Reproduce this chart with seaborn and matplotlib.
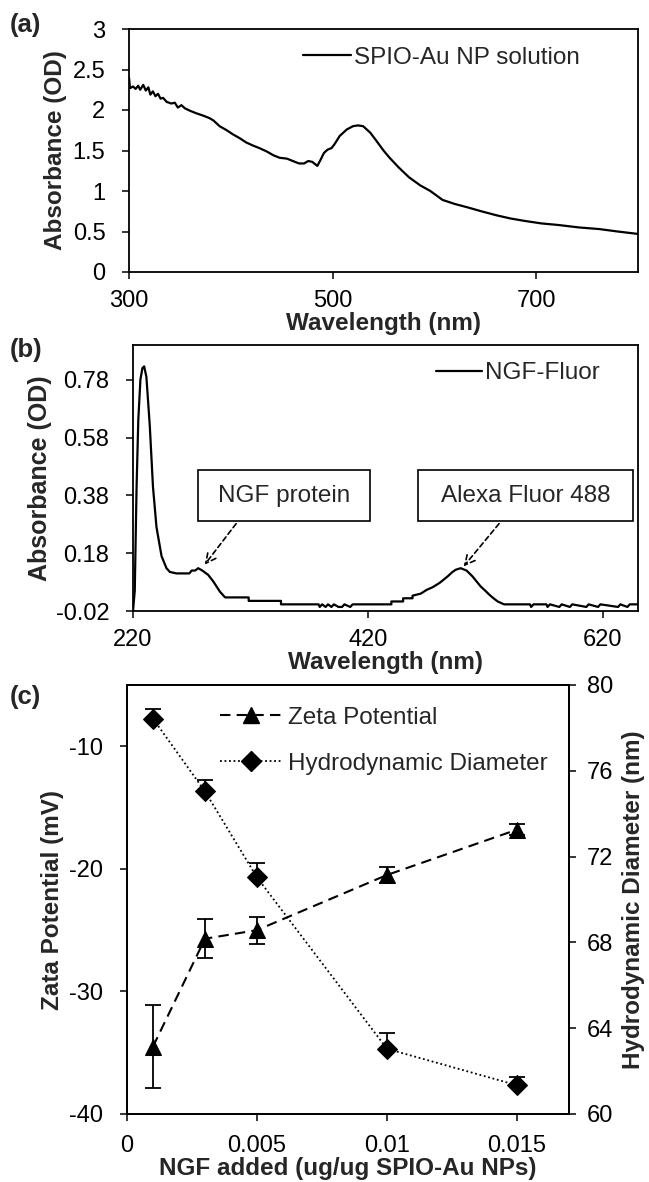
import matplotlib
matplotlib.use("Agg")
import matplotlib.pyplot as plt
from matplotlib.lines import Line2D
from matplotlib.patches import Rectangle
import numpy as np
import pandas as pd
import seaborn as sns

# ---------------- (a) SPIO-Au NP solution absorbance spectrum ----------------
spio_wavelength = [300, 301, 304, 306.5, 309, 311, 314, 316.5, 319, 321, 323.5, 326,
                   328.5, 331, 333.5, 337, 341.5, 345, 348, 351.5, 355, 360, 366, 373,
                   379, 383, 389, 396, 402, 409, 415, 422, 428, 435, 442, 448, 455, 461,
                   467, 472, 476, 480, 485, 488, 491.5, 495, 499, 502, 507, 514, 520, 525,
                   530, 537, 543, 550, 556, 565, 575, 586, 596, 608, 620, 632, 646, 661,
                   675, 689, 705, 722, 742, 762, 780, 800]
spio_absorbance = [2.40, 2.27, 2.29, 2.26, 2.30, 2.25, 2.31, 2.24, 2.28, 2.19, 2.23, 2.17,
                   2.20, 2.14, 2.15, 2.10, 2.08, 2.09, 2.03, 2.06, 2.02, 1.99, 1.96, 1.93,
                   1.90, 1.87, 1.80, 1.75, 1.70, 1.65, 1.60, 1.56, 1.53, 1.49, 1.44, 1.41,
                   1.40, 1.37, 1.34, 1.34, 1.37, 1.36, 1.31, 1.38, 1.47, 1.51, 1.53, 1.58,
                   1.68, 1.76, 1.80, 1.81, 1.80, 1.72, 1.62, 1.50, 1.41, 1.29, 1.17, 1.07,
                   1.00, 0.89, 0.84, 0.80, 0.75, 0.70, 0.66, 0.63, 0.60, 0.58, 0.55, 0.53,
                   0.50, 0.47]

# ---------------- (b) NGF-Fluor absorbance spectrum ----------------
ngf_wavelength = [220, 221.5, 223, 224.5, 226.3, 228, 229.5, 231.4, 234.3, 237, 240, 244.3,
                  248.5, 251.4, 257, 268, 270, 273, 275.5, 279, 284, 288.4, 294, 298.4,
                  318.5, 318.5, 346, 346, 378, 379, 381, 384, 386, 389, 391, 395, 398, 400,
                  405, 407, 440, 440, 450, 450, 458, 458, 465, 470, 475, 481, 485, 488, 492,
                  495, 499, 504, 509, 513, 516, 520, 523.5, 527, 530.5, 536, 558, 559, 561,
                  572, 573, 575, 583, 585, 592, 594, 606, 608, 616, 618, 633, 635, 641, 643,
                  650]
ngf_absorbance = [-0.02, 0.05, 0.40, 0.64, 0.78, 0.82, 0.826, 0.79, 0.62, 0.41, 0.27, 0.17,
                  0.128, 0.115, 0.11, 0.11, 0.12, 0.12, 0.128, 0.12, 0.105, 0.082, 0.047, 0.027,
                  0.027, 0.015, 0.015, 0.003, 0.003, -0.006, 0.003, -0.006, 0.003, -0.006, 0.003,
                  -0.006, -0.006, 0.003, -0.006, 0.003, 0.003, 0.013, 0.013, 0.024, 0.024, 0.033,
                  0.040, 0.053, 0.062, 0.077, 0.09, 0.10, 0.115, 0.123, 0.128, 0.12, 0.10, 0.08,
                  0.065, 0.05, 0.036, 0.024, 0.013, 0.003, 0.003, -0.006, 0.003, 0.003, -0.006,
                  0.003, -0.006, 0.003, -0.006, 0.003, -0.006, 0.003, -0.006, 0.003, -0.006,
                  0.003, -0.006, 0.003, 0.003]

# ---------------- (c) zeta potential and hydrodynamic diameter ----------------
ngf_added = [0.001, 0.003, 0.005, 0.010, 0.015]
zeta_potential = [-34.5, -25.7, -25.0, -20.5, -16.8]
zeta_error = [3.4, 1.6, 1.1, 0.65, 0.45]
hydro_diameter = [78.43, 75.04, 71.03, 63.04, 61.34]
hydro_error = [0.45, 0.53, 0.67, 0.72, 0.37]

sns.set_theme(style="ticks")
plt.rcParams["font.family"] = ["Liberation Sans", "DejaVu Sans"]
plt.rcParams.update({
    "axes.linewidth": 1.3,
    "axes.edgecolor": "black",
    "xtick.color": "black",
    "ytick.color": "black",
    "xtick.direction": "out",
    "ytick.direction": "out",
    "xtick.major.size": 5,
    "ytick.major.size": 5,
    "xtick.major.width": 1.1,
    "ytick.major.width": 1.1,
    "xtick.major.pad": 8,
    "ytick.major.pad": 12,
    "axes.labelweight": "bold",
})

TICK_FS = 17
LABEL_FS = 17.5
LEGEND_FS = 17.5

W, H = 649, 1182
fig = plt.figure(figsize=(W / 100, H / 100), dpi=100)


def px_axes(left, top, right, bottom):
    return fig.add_axes([left / W, 1 - bottom / H, (right - left) / W, (bottom - top) / H])


ax_a = px_axes(129, 29, 638, 272)
ax_b = px_axes(133, 345, 638, 611)
ax_c = px_axes(127, 685, 569, 1114)

# ---- panel (a)
df_a = pd.DataFrame({"wl": spio_wavelength, "abs": spio_absorbance})
sns.lineplot(data=df_a, x="wl", y="abs", ax=ax_a, color="black", linewidth=1.6,
             estimator=None, sort=False, label="SPIO-Au NP solution")
ax_a.set_xlim(300, 800)
ax_a.set_ylim(0, 3)
ax_a.set_xticks([300, 500, 700])
ax_a.set_yticks([0, 0.5, 1, 1.5, 2, 2.5, 3])
ax_a.set_yticklabels(["0", "0.5", "1", "1.5", "2", "2.5", "3"])
ax_a.tick_params(labelsize=TICK_FS)
ax_a.set_xlabel("Wavelength (nm)", fontsize=LABEL_FS, fontweight="bold", labelpad=0)
ax_a.set_ylabel("Absorbance (OD)", fontsize=LABEL_FS, fontweight="bold", labelpad=4)
ax_a.legend(loc="center left", bbox_to_anchor=(0.341, 0.881), frameon=False,
            fontsize=LEGEND_FS, handlelength=2.0, handletextpad=0.1,
            borderpad=0, borderaxespad=0)

# ---- panel (b)
df_b = pd.DataFrame({"wl": ngf_wavelength, "abs": ngf_absorbance})
sns.lineplot(data=df_b, x="wl", y="abs", ax=ax_b, color="black", linewidth=1.6,
             estimator=None, sort=False, label="NGF-Fluor")
ax_b.set_xlim(220, 650)
ax_b.set_ylim(-0.02, 0.9)
ax_b.set_xticks([220, 420, 620])
ax_b.set_yticks([-0.02, 0.18, 0.38, 0.58, 0.78])
ax_b.set_yticklabels(["-0.02", "0.18", "0.38", "0.58", "0.78"])
ax_b.tick_params(labelsize=TICK_FS)
ax_b.set_xlabel("Wavelength (nm)", fontsize=LABEL_FS, fontweight="bold", labelpad=0)
ax_b.set_ylabel("Absorbance (OD)", fontsize=18, fontweight="bold", labelpad=3)
ax_b.legend(loc="center left", bbox_to_anchor=(0.600, 0.894), frameon=False,
            fontsize=LEGEND_FS, handlelength=1.9, handletextpad=0.1,
            borderpad=0, borderaxespad=0)

# peak call-out boxes with dashed arrows
callouts = [
    ("NGF protein", (275.5, 421.5), (307.8, 0.282), (281.0, 0.140)),
    ("Alexa Fluor 488", (463.0, 646.0), (531.7, 0.282), (501.5, 0.134)),
]
box_y0, box_y1 = 0.29, 0.467
for text, (bx0, bx1), tail, head in callouts:
    ax_b.add_patch(Rectangle((bx0, box_y0), bx1 - bx0, box_y1 - box_y0,
                             facecolor="white", edgecolor="black", linewidth=1.2,
                             zorder=3))
    ax_b.text((bx0 + bx1) / 2, (box_y0 + box_y1) / 2, text, ha="center", va="center",
              fontsize=LEGEND_FS, zorder=4)
    ax_b.annotate("", xy=head, xytext=tail,
                  arrowprops=dict(arrowstyle="->,head_length=0.6,head_width=0.3",
                                  linestyle=(0, (3, 2)), color="black", lw=1.2,
                                  shrinkA=0, shrinkB=0))

# ---- panel (c)
df_c = pd.DataFrame({"ngf": ngf_added, "zeta": zeta_potential, "zerr": zeta_error,
                     "dh": hydro_diameter, "dherr": hydro_error})
ax_c2 = ax_c.twinx()

sns.lineplot(data=df_c, x="ngf", y="zeta", ax=ax_c, color="black", linewidth=1.5,
             marker="^", markersize=12, markeredgecolor="black",
             dashes=False, linestyle=(0, (5, 3)), estimator=None, sort=False, legend=False)
ax_c.errorbar(df_c["ngf"], df_c["zeta"], yerr=df_c["zerr"], fmt="none",
              ecolor="black", elinewidth=1.3, capsize=6, capthick=1.3)

sns.lineplot(data=df_c, x="ngf", y="dh", ax=ax_c2, color="black", linewidth=1.3,
             marker="D", markersize=10, markeredgecolor="black",
             dashes=False, linestyle=(0, (1, 1.5)), estimator=None, sort=False, legend=False)
ax_c2.errorbar(df_c["ngf"], df_c["dh"],
               yerr=[np.zeros(len(df_c)), df_c["dherr"].to_numpy()], fmt="none",
               ecolor="black", elinewidth=1.3, capsize=6, capthick=1.3)

ax_c.set_xlim(0, 0.017)
ax_c.set_ylim(-40, -5)
ax_c.set_xticks([0, 0.005, 0.01, 0.015])
ax_c.set_xticklabels(["0", "0.005", "0.01", "0.015"])
ax_c.set_yticks([-40, -30, -20, -10])
ax_c.set_yticklabels(["-40", "-30", "-20", "-10"])
ax_c2.set_ylim(60, 80)
ax_c2.set_yticks([60, 64, 68, 72, 76, 80])
ax_c.tick_params(labelsize=TICK_FS)
ax_c.tick_params(axis="x", pad=10)
ax_c2.tick_params(labelsize=TICK_FS, pad=8)
ax_c.set_xlabel("NGF added (ug/ug SPIO-Au NPs)", fontsize=LABEL_FS, fontweight="bold",
                labelpad=0)
ax_c.set_ylabel("Zata Potential (mV)", fontsize=LABEL_FS, fontweight="bold", labelpad=4)
ax_c2.set_ylabel("Hydrodynamic Diameter (nm)", fontsize=LABEL_FS, fontweight="bold",
                 labelpad=6)

legend_handles = [
    Line2D([], [], color="black", linewidth=1.5, linestyle=(0, (5, 3)), marker="^",
           markersize=12),
    Line2D([], [], color="black", linewidth=1.3, linestyle=(0, (1, 1.5)), marker="D",
           markersize=10),
]
ax_c2.legend(legend_handles, ["Zeta Potential", "Hydrodynamic Diameter"],
             loc="center left", bbox_to_anchor=(0.21, 0.87), frameon=False,
             fontsize=LEGEND_FS, handlelength=2.6, handletextpad=0.2,
             labelspacing=1.0, borderpad=0, borderaxespad=0)

# panel letters
for letter, y in [("(a)", 25), ("(b)", 350), ("(c)", 697)]:
    fig.text(10 / W, 1 - y / H, letter, fontsize=18.5, fontweight="bold",
             ha="left", va="center")

fig.savefig("out.png", dpi=100)
